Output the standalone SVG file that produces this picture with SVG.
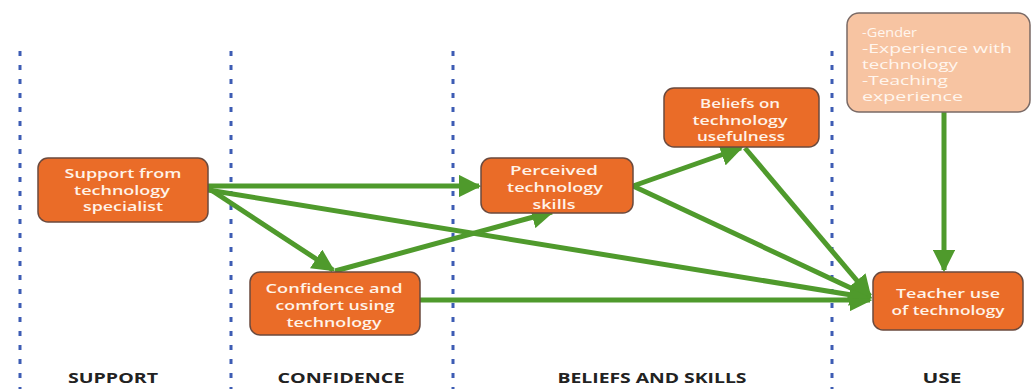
<svg xmlns="http://www.w3.org/2000/svg" width="1032" height="389" viewBox="0 0 1032 389">
<style>
.div{stroke:#3d5cb4;stroke-width:3;stroke-dasharray:5,9;fill:none}
.node{fill:#ea6c28;stroke:#6b4a3e;stroke-width:1.5}
.soft{fill:#f7c4a2;stroke:#7a6a66;stroke-width:1.5}
.nt{font-family:"Open Sans","Liberation Sans",sans-serif;font-size:12.5px;font-weight:600;fill:#fff3e8;text-anchor:middle}
.st{font-family:"Open Sans","Liberation Sans",sans-serif;font-size:12.5px;fill:#fff6ee}
.lab{font-family:"Open Sans","Liberation Sans",sans-serif;font-size:14px;font-weight:700;fill:#222;text-anchor:middle}
.ar{stroke:#4f9a2c;stroke-width:5;fill:none;marker-end:url(#ah)}
</style>
<defs>
<marker id="ah" viewBox="0 0 10 10" refX="9" refY="5" markerWidth="4.5" markerHeight="4.5" orient="auto" markerUnits="strokeWidth">
<path d="M0,0 L10,5 L0,10 z" fill="#4f9a2c"/>
</marker>
</defs>
<g id="dividers">
<line class="div" x1="20" y1="51" x2="20" y2="389"/>
<line class="div" x1="231" y1="51" x2="231" y2="389"/>
<line class="div" x1="453" y1="51" x2="453" y2="389"/>
<line class="div" x1="832" y1="51" x2="832" y2="389"/>
</g>
<g id="connectors">
<line class="ar" x1="208" y1="186" x2="479" y2="186"/>
<line class="ar" x1="208" y1="188" x2="333" y2="270"/>
<line class="ar" x1="208" y1="190" x2="870" y2="298"/>
<line class="ar" x1="335" y1="271" x2="552" y2="212"/>
<line class="ar" x1="420" y1="300" x2="870" y2="300"/>
<line class="ar" x1="633" y1="186" x2="741" y2="148"/>
<line class="ar" x1="633" y1="186" x2="870" y2="297"/>
<line class="ar" x1="745" y1="148" x2="870" y2="296"/>
<line class="ar" x1="944" y1="112" x2="944" y2="270"/>
</g>
<g id="n-support">
<rect class="node" x="38" y="158" width="170" height="64" rx="10"/>
<text class="nt" x="123" y="178" textLength="117" lengthAdjust="spacingAndGlyphs">Support from</text>
<text class="nt" x="122" y="195" textLength="96" lengthAdjust="spacingAndGlyphs">technology</text>
<text class="nt" x="123" y="211" textLength="80" lengthAdjust="spacingAndGlyphs">specialist</text>
</g>
<g id="n-confidence">
<rect class="node" x="250" y="272" width="170" height="63" rx="10"/>
<text class="nt" x="334" y="293" textLength="137" lengthAdjust="spacingAndGlyphs">Confidence and</text>
<text class="nt" x="335" y="310" textLength="119" lengthAdjust="spacingAndGlyphs">comfort using</text>
<text class="nt" x="334" y="327" textLength="95" lengthAdjust="spacingAndGlyphs">technology</text>
</g>
<g id="n-perceived">
<rect class="node" x="481" y="158" width="152" height="55" rx="10"/>
<text class="nt" x="554" y="175" textLength="88" lengthAdjust="spacingAndGlyphs">Perceived</text>
<text class="nt" x="555" y="192" textLength="96" lengthAdjust="spacingAndGlyphs">technology</text>
<text class="nt" x="554" y="209" textLength="43" lengthAdjust="spacingAndGlyphs">skills</text>
</g>
<g id="n-beliefs">
<rect class="node" x="664" y="88" width="155" height="59" rx="10"/>
<text class="nt" x="740" y="108" textLength="80" lengthAdjust="spacingAndGlyphs">Beliefs on</text>
<text class="nt" x="740" y="125" textLength="95" lengthAdjust="spacingAndGlyphs">technology</text>
<text class="nt" x="741" y="141" textLength="88" lengthAdjust="spacingAndGlyphs">usefulness</text>
</g>
<g id="n-factors">
<rect class="soft" x="847" y="13" width="183" height="99" rx="12"/>
<text class="st" x="862" y="37" textLength="55" lengthAdjust="spacingAndGlyphs">-Gender</text>
<text class="st" x="862" y="53" textLength="150" lengthAdjust="spacingAndGlyphs">-Experience with</text>
<text class="st" x="862" y="69" textLength="96" lengthAdjust="spacingAndGlyphs">technology</text>
<text class="st" x="862" y="85" textLength="86" lengthAdjust="spacingAndGlyphs">-Teaching</text>
<text class="st" x="862" y="101" textLength="101" lengthAdjust="spacingAndGlyphs">experience</text>
</g>
<g id="n-use">
<rect class="node" x="873" y="272" width="150" height="58" rx="10"/>
<text class="nt" x="948" y="298" textLength="104" lengthAdjust="spacingAndGlyphs">Teacher use</text>
<text class="nt" x="948" y="315" textLength="113" lengthAdjust="spacingAndGlyphs">of technology</text>
</g>
<g id="labels">
<text class="lab" x="113" y="383" textLength="90" lengthAdjust="spacingAndGlyphs">SUPPORT</text>
<text class="lab" x="341" y="383" textLength="127" lengthAdjust="spacingAndGlyphs">CONFIDENCE</text>
<text class="lab" x="652" y="383" textLength="189" lengthAdjust="spacingAndGlyphs">BELIEFS AND SKILLS</text>
<text class="lab" x="942" y="383" textLength="39" lengthAdjust="spacingAndGlyphs">USE</text>
</g>
</svg>
